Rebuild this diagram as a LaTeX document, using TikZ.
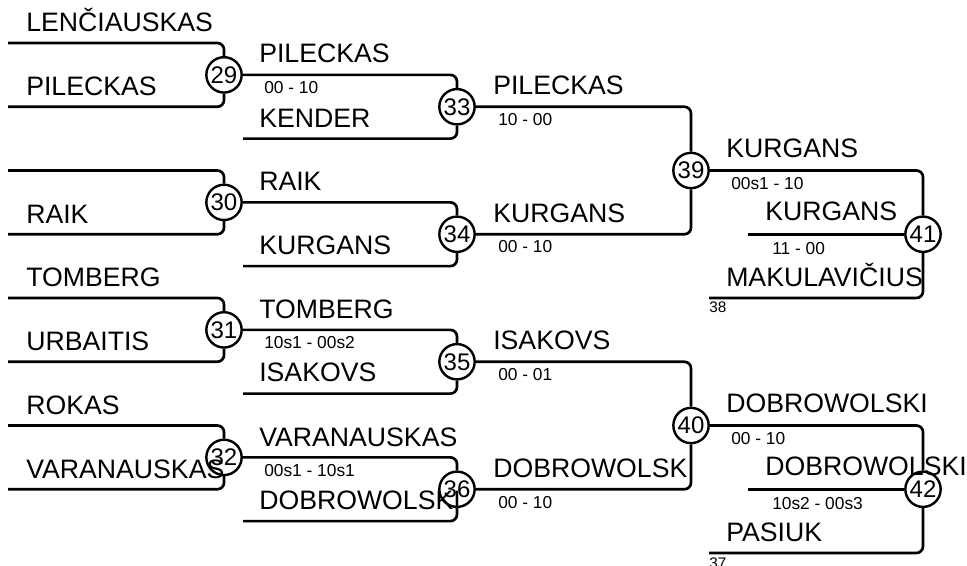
\documentclass[tikz,border=0pt]{standalone}
\usepackage{fontspec}
\setmainfont{Liberation Sans}
\begin{document}
\begin{tikzpicture}[x=0.75pt,y=-0.75pt,
  conn/.style={line width=2pt, rounded corners=5pt},
  match/.style={circle, draw, line width=1.8pt, minimum size=26.5pt, inner sep=0pt, font=\fontsize{18}{18}\selectfont},
  pname/.style={anchor=base west, inner sep=0pt, font=\fontsize{20}{20}\selectfont},
  score/.style={anchor=base west, inner sep=0pt, font=\fontsize{13}{13}\selectfont},
  seed/.style={anchor=base west, inner sep=0pt, font=\fontsize{11.5}{12}\selectfont}]
\useasboundingbox (0,0) rectangle (967,566);

% match circles
\node[match] (m29) at (224,74.875) {29};
\node[match] (m30) at (224,202.375) {30};
\node[match] (m31) at (224,329.875) {31};
\node[match] (m32) at (224,457.375) {32};
\node[match] (m33) at (457,106.75) {33};
\node[match] (m34) at (457,234.25) {34};
\node[match] (m35) at (457,361.75) {35};
\node[match] (m36) at (457,489.25) {36};
\node[match] (m39) at (691,170.5) {39};
\node[match] (m40) at (691,425.5) {40};
\node[match] (m41) at (923,234.25) {41};
\node[match] (m42) at (923,489.25) {42};

% free ends
\coordinate (a1) at (8,43);
\coordinate (a2) at (8,106.75);
\coordinate (a3) at (8,170.5);
\coordinate (a4) at (8,234.25);
\coordinate (a5) at (8,298);
\coordinate (a6) at (8,361.75);
\coordinate (a7) at (8,425.5);
\coordinate (a8) at (8,489.25);
\coordinate (b1) at (243,138.625);
\coordinate (b2) at (243,266.125);
\coordinate (b3) at (243,393.625);
\coordinate (b4) at (243,521.125);
\coordinate (c1) at (748,234.25);
\coordinate (c2) at (748,489.25);
\coordinate (d1) at (709,298);
\coordinate (d2) at (709,553);

% connectors
\draw[conn] (a1) -| (m29);
\draw[conn] (a2) -| (m29);
\draw[conn] (a3) -| (m30);
\draw[conn] (a4) -| (m30);
\draw[conn] (a5) -| (m31);
\draw[conn] (a6) -| (m31);
\draw[conn] (a7) -| (m32);
\draw[conn] (a8) -| (m32);
\draw[conn] (m29) -| (m33);
\draw[conn] (b1) -| (m33);
\draw[conn] (m30) -| (m34);
\draw[conn] (b2) -| (m34);
\draw[conn] (m31) -| (m35);
\draw[conn] (b3) -| (m35);
\draw[conn] (m32) -| (m36);
\draw[conn] (b4) -| (m36);
\draw[conn] (m33) -| (m39);
\draw[conn] (m34) -| (m39);
\draw[conn] (m35) -| (m40);
\draw[conn] (m36) -| (m40);
\draw[conn] (m39) -| (m41);
\draw[conn] (c1) -- (m41);
\draw[conn] (d1) -| (m41);
\draw[conn] (m40) -| (m42);
\draw[conn] (c2) -- (m42);
\draw[conn] (d2) -| (m42);

% round 1 names
\node[pname] (n1) at (26,32) {LENČIAUSKAS};
\node[pname] (n2) at (26,95.75) {PILECKAS};
\node[pname] (n4) at (26,223.25) {RAIK};
\node[pname] (n5) at (26,287) {TOMBERG};
\node[pname] (n6) at (26,350.75) {URBAITIS};
\node[pname] (n7) at (26,414.5) {ROKAS};
\node[pname] (n8) at (26,478.25) {VARANAUSKAS};

% round 2
\node[pname] (r2a) at (259,63) {PILECKAS};
\node[score] (s2a) at (264,93.5) {00 - 10};
\node[pname] (r2b) at (259,127.6) {KENDER};
\node[pname] (r2c) at (259,191) {RAIK};
\node[pname] (r2d) at (259,254.5) {KURGANS};
\node[pname] (r2e) at (259,318.5) {TOMBERG};
\node[score] (s2e) at (264,348.5) {10s1 - 00s2};
\node[pname] (r2f) at (259,382) {ISAKOVS};
\node[pname] (r2g) at (259,446) {VARANAUSKAS};
\node[score] (s2g) at (264,476) {00s1 - 10s1};
\node[pname] (r2h) at (259,509.5) {DOBROWOLSKI};

% round 3
\node[pname] (r3a) at (493,95) {PILECKAS};
\node[score] (s3a) at (498,125.5) {10 - 00};
\node[pname] (r3b) at (493,222.5) {KURGANS};
\node[score] (s3b) at (498,253) {00 - 10};
\node[pname] (r3c) at (493,350) {ISAKOVS};
\node[score] (s3c) at (498,380.5) {00 - 01};
\node[pname] (r3d) at (493,477.5) {DOBROWOLSK};
\node[score] (s3d) at (498,508) {00 - 10};

% round 4
\node[pname] (r4a) at (726,157.5) {KURGANS};
\node[score] (s4a) at (731,189.5) {00s1 - 10};
\node[pname] (r4b) at (765,220.5) {KURGANS};
\node[score] (s4b) at (772,254.5) {11 - 00};
\node[pname] (r4c) at (726,286.5) {MAKULAVIČIUS};
\node[seed] (e4c) at (709,313) {38};
\node[pname] (r4d) at (726,412.5) {DOBROWOLSKI};
\node[score] (s4d) at (731,444.5) {00 - 10};
\node[pname] (r4e) at (765,475.5) {DOBROWOLSKI};
\node[score] (s4e) at (772,509.5) {10s2 - 00s3};
\node[pname] (r4f) at (726,541.5) {PASIUK};
\node[seed] (e4f) at (709,568) {37};
\end{tikzpicture}
\end{document}
